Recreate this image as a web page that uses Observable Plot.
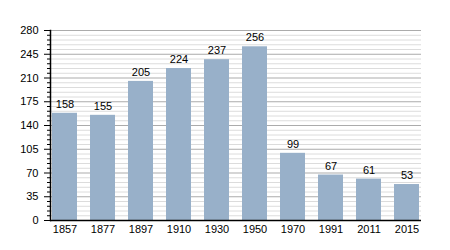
<!DOCTYPE html>
<html><head><meta charset="utf-8">
<script src="https://cdn.jsdelivr.net/npm/d3@7"></script>
<script src="https://cdn.jsdelivr.net/npm/@observablehq/plot@0.6"></script>
<style>body{margin:0;background:#fff;} svg{display:block;}</style>
</head><body><div id="chart"></div>
<script>
const years = ["1857","1877","1897","1910","1930","1950","1970","1991","2011","2015"];
const population = [158,155,205,224,237,256,99,67,61,53];
const majorTicks = [0,35,70,105,140,175,210,245,280];
const minorTicks = d3.range(0, 281, 7).filter(v => v % 35 !== 0);

const data = years.map((y,i)=>({year:y, value:population[i]}));

const chart = Plot.plot({
  width: 450, height: 250,
  marginLeft: 50, marginRight: 29, marginTop: 30, marginBottom: 30,
  style: {fontFamily: "Liberation Sans, Arial, sans-serif", fontSize: "11px", color: "#000", background: "#fff"},
  x: {domain: years, paddingInner: 0.334, paddingOuter: 0, label: null},
  y: {domain: [0,280], label: null},
  marks: [
    Plot.ruleY(minorTicks, {stroke: "#dcdcdc", strokeWidth: 1}),
    Plot.ruleY(majorTicks, {stroke: "#ababab", strokeWidth: 1}),
    Plot.barY(data, {x: "year", y: "value", fill: "#98b0c9"}),
    Plot.text(data, {x: "year", y: "value", text: d => String(d.value), dy: -9, fill: "#000", fontSize: 11}),
    Plot.axisY(majorTicks, {tickSize: 6, tickPadding: 6, fontSize: 11, stroke: "#000", fill: "#000", strokeOpacity: 1}),
    Plot.axisY(minorTicks, {tickSize: 3, text: null, stroke: "#000", strokeOpacity: 1, label: null}),
    Plot.axisX({tickSize: 0, tickPadding: 5, fontSize: 11, fill: "#000"}),
    Plot.frame({anchor: "left", stroke: "#000", strokeWidth: 1.5}),
    Plot.ruleY([0], {stroke: "#000", strokeWidth: 1.5})
  ]
});
document.getElementById("chart").appendChild(chart);
</script></body></html>
